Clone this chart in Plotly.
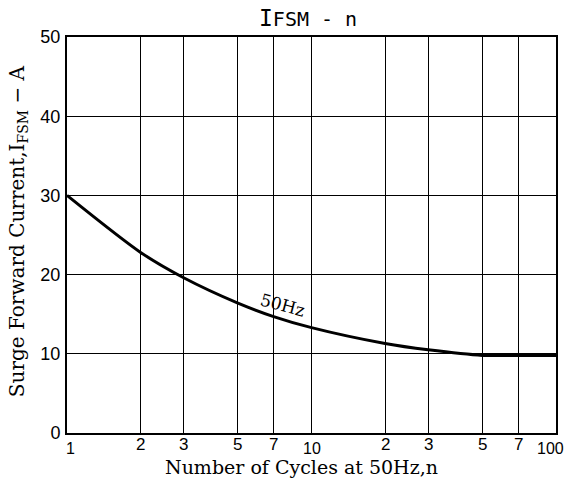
import math
import plotly.graph_objects as go

# data
cycles = [1, 2, 3, 5, 7, 10, 20, 30, 50, 70, 100]
surge_current = [30, 22.8, 19.6, 16.4, 14.7, 13.3, 11.3, 10.5, 9.8, 9.8, 9.8]
x_tick_vals = [1, 2, 3, 5, 7, 10, 20, 30, 50, 70, 100]
x_tick_text = ["1", "2", "3", "5", "7", "10", "2", "3", "5", "7", "100"]
y_tick_vals = [0, 10, 20, 30, 40, 50]
curve_label = "50Hz"
curve_label_pos = (7.6, 16.2)

fig = go.Figure()
fig.add_trace(go.Scatter(
    x=cycles, y=surge_current, mode="lines",
    line=dict(color="black", width=3, shape="spline", smoothing=0.8),
    showlegend=False, hoverinfo="skip"))

# curve label (log axis -> annotation x in log10 units)
fig.add_annotation(x=math.log10(curve_label_pos[0]), y=curve_label_pos[1], xref="x", yref="y",
                   text=curve_label, showarrow=False, textangle=15,
                   font=dict(family="DejaVu Serif", size=17, color="black"))

# x tick labels: decade labels sit a little lower than the in-between ones
for v, t in zip(x_tick_vals, x_tick_text):
    decade = abs(math.log10(v) - round(math.log10(v))) < 1e-9
    if v == 100:
        anchor, xs = "right", 10
    elif v == 1:
        anchor, xs = "center", 3
    else:
        anchor, xs = "center", 0
    fig.add_annotation(x=math.log10(v), y=0, xref="x", yref="paper",
                       text=t, showarrow=False, xanchor=anchor, yanchor="top",
                       yshift=-5 if decade else 0, xshift=xs,
                       font=dict(family="Liberation Sans", size=17 if not decade else 16,
                                 color="black"))

# chart title
fig.add_annotation(x=0.492, y=1.048, xref="paper", yref="paper", showarrow=False,
                   xanchor="center", yanchor="middle",
                   text="I<span style='font-size:20px'>FSM - n</span>",
                   font=dict(family="DejaVu Sans Mono", size=23, color="black"))

# axis titles
fig.add_annotation(x=0.48, y=-0.086, xref="paper", yref="paper", showarrow=False,
                   xanchor="center", yanchor="middle",
                   text="Number of Cycles at 50Hz,n",
                   font=dict(family="DejaVu Serif", size=19, color="black"))
fig.add_annotation(x=-0.1, y=0.51, xref="paper", yref="paper", showarrow=False,
                   xanchor="center", yanchor="middle", textangle=-90,
                   text="Surge Forward Current,I<sub>FSM</sub> − A",
                   font=dict(family="DejaVu Serif", size=20, color="black"))

axis_common = dict(showline=True, linecolor="black", linewidth=2, mirror=True,
                   showgrid=True, gridcolor="black", gridwidth=1.3,
                   ticks="", zeroline=False, automargin=False)

fig.update_layout(
    width=567, height=484,
    margin=dict(l=67, r=11, t=37, b=51),
    paper_bgcolor="white", plot_bgcolor="white",
    xaxis=dict(type="log", range=[0, 2], tickvals=x_tick_vals, showticklabels=False,
               **axis_common),
    yaxis=dict(range=[0, 50], tickvals=y_tick_vals, ticklabelstandoff=1,
               tickfont=dict(family="Liberation Sans", size=18, color="black"),
               **axis_common),
)

fig.write_html("out.html", config={"displayModeBar": False},
               post_script="document.body.style.margin='0px';")
